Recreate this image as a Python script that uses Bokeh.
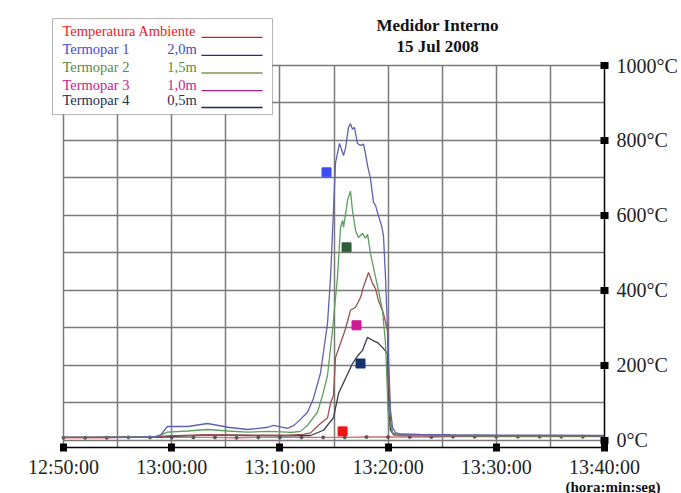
from bokeh.plotting import figure
from bokeh.models import Range1d, FixedTicker, Label, BoxAnnotation, Arrow, Title
from bokeh.embed import file_html
from bokeh.resources import INLINE

# ---- data (minutes after 12:50:00, temperature in degC) ----
x_tick_values = [0, 10, 20, 30, 40, 50]
x_tick_labels = ["12:50:00", "13:00:00", "13:10:00", "13:20:00", "13:30:00", "13:40:00"]
y_tick_values = [0, 200, 400, 600, 800, 1000]
y_tick_labels = ["0°C", "200°C", "400°C", "600°C", "800°C", "1000°C"]

amb_t = [0, 2, 4, 6, 8, 10, 12, 14, 16, 18, 20, 22, 24, 26, 28, 30, 32, 34, 36, 38, 40, 42, 44, 46, 48, 50]
amb_v = [7, 7, 7, 8, 8, 8, 8, 8, 7, 8, 8, 8, 8, 8, 9, 9, 9, 9, 10, 10, 10, 10, 10, 10, 10, 10]

t1_t = [0, 3.4, 7.1, 8.5, 9.0, 9.6, 11.5, 13.3, 15.2, 17.0, 18.9, 19.4, 20.7, 21.3, 21.9, 22.55,
        23.1, 23.75, 24.4, 24.68, 24.95, 25.14, 25.51, 25.88, 26.06, 26.34, 26.52, 26.71, 26.89,
        27.17, 27.45, 27.73, 27.91, 28.1, 28.37, 28.65, 28.84, 29.02, 29.39, 29.57, 29.76, 29.94,
        30.13, 30.22, 30.41, 30.68, 31.15, 33.0, 35.8, 40.4, 45.0, 50.0]
t1_v = [8, 8, 9, 10, 15, 37, 37, 45, 35, 29, 35, 40, 32, 40, 56, 75,
        112, 179, 312, 435, 613, 740, 792, 760, 779, 835, 845, 830, 835,
        792, 787, 790, 765, 733, 699, 635, 627, 608, 573, 547, 435, 300,
        150, 80, 35, 21, 17, 16, 15, 14, 14, 13]

t2_t = [0, 3.4, 7.1, 8.5, 9.0, 9.6, 11.5, 13.3, 15.2, 17.0, 18.9, 20.7, 21.0, 21.9, 22.55, 23.47,
        23.94, 24.4, 24.86, 25.32, 25.6, 25.79, 25.88, 26.16, 26.25, 26.52, 26.71, 26.99, 27.26,
        27.63, 27.91, 28.1, 28.37, 28.84, 29.11, 29.48, 29.76, 29.94, 30.04, 30.22, 30.41, 30.87,
        35.0, 40.0, 45.0, 50.0]
t2_v = [8, 8, 9, 10, 14, 22, 25, 29, 25, 22, 24, 22, 21, 24, 40, 75,
        120, 173, 293, 435, 568, 587, 568, 621, 640, 665, 613, 560, 541,
        552, 539, 550, 499, 435, 400, 347, 259, 125, 53, 45, 20, 15,
        13, 12, 12, 12]

t3_t = [0, 8.5, 9.6, 13.3, 17.0, 20.7, 22.18, 22.83, 23.75, 24.4, 24.68, 24.95, 25.14, 25.6,
        26.06, 26.52, 26.99, 27.45, 27.73, 28.19, 28.56, 28.84, 29.11, 29.57, 29.94, 30.04,
        30.22, 30.41, 31.0, 35.0, 40.0, 45.0, 50.0]
t3_v = [8, 9, 12, 15, 14, 14, 16, 20, 45, 60, 99, 120, 221, 259,
        297, 347, 355, 381, 410, 448, 419, 405, 373, 339, 293, 168,
        53, 20, 13, 12, 12, 11, 11]

t4_t = [0, 8.5, 9.6, 13.3, 17.0, 20.7, 22.83, 24.03, 24.95, 25.42, 26.06, 26.71, 27.17, 27.63,
        28.1, 28.56, 29.02, 29.48, 29.94, 30.04, 30.22, 30.5, 35.0, 40.0, 45.0, 50.0]
t4_v = [8, 8, 10, 14, 13, 12, 13, 27, 60, 125, 165, 205, 225, 240,
        275, 267, 261, 248, 232, 80, 27, 15, 12, 12, 11, 11]

# point markers placed on the chart (one per series)
mark_t = [24.31, 26.16, 27.08, 27.45, 25.79]
mark_v = [715, 515, 307, 205, 24]
mark_c = ["#3b4cf5", "#2f5e3a", "#cc1a99", "#14306e", "#f01414"]

legend_names = ["Temperatura  Ambiente", "Termopar  1", "Termopar  2", "Termopar  3", "Termopar  4"]
legend_dist = ["", "2,0m", "1,5m", "1,0m", "0,5m"]
legend_text_colors = ["#f02020", "#4848d0", "#5f8a3e", "#d0188f", "#1f2f50"]
legend_line_colors = ["#e01818", "#2424b0", "#7a9a5a", "#b0208a", "#1a2a50"]

SERIF = "Liberation Serif"
X0 = -5.8226   # frame starts at the left canvas edge
YTOP = 1173.4  # frame reaches the top canvas edge

p = figure(width=681, height=493, x_range=Range1d(X0, 50), y_range=Range1d(-19, YTOP),
           output_backend="svg", toolbar_location=None, y_axis_location="right",
           min_border_left=0, min_border_right=77, min_border_top=0, min_border_bottom=46)
p.background_fill_color = "white"
p.border_fill_color = "white"
p.outline_line_color = None

# grid
p.xgrid.ticker = FixedTicker(ticks=list(range(0, 51, 5)))
p.ygrid.ticker = FixedTicker(ticks=list(range(0, 1001, 100)))
for g in (p.xgrid, p.ygrid):
    g.grid_line_color = "#7a7a7a"
    g.grid_line_width = 1.5
has_cross = "cross_bounds" in p.xgrid.properties()
if has_cross:
    p.xgrid.cross_bounds = (-19, 1000)
    p.ygrid.cross_bounds = (0, 50)
else:
    p.add_layout(BoxAnnotation(left=X0, right=50, bottom=1001.5, top=YTOP, fill_color="white",
                               fill_alpha=1.0, line_color=None, level="underlay"))
    p.add_layout(BoxAnnotation(left=X0, right=-0.08, bottom=-19, top=YTOP, fill_color="white",
                               fill_alpha=1.0, line_color=None, level="underlay"))

# axes
xa = p.xaxis[0]
xa.ticker = FixedTicker(ticks=x_tick_values)
xa.major_label_overrides = {v: l for v, l in zip(x_tick_values, x_tick_labels)}
xa.bounds = (0, 50)
ya = p.yaxis[0]
ya.ticker = FixedTicker(ticks=y_tick_values)
ya.major_label_overrides = {v: l for v, l in zip(y_tick_values, y_tick_labels)}
ya.bounds = (-19, 1000)
for ax in (xa, ya):
    ax.axis_line_color = "black"
    ax.axis_line_width = 1.5
    ax.major_tick_line_color = "black"
    ax.major_tick_line_width = 7
    ax.major_tick_in = 4
    ax.major_tick_out = 4
    ax.minor_tick_line_color = None
    ax.major_label_text_font = SERIF
    ax.major_label_text_font_size = "20px"
    ax.major_label_text_color = "#222222"
xa.major_label_standoff = 4
ya.major_label_standoff = 8

# unit note under the time axis
unit_title = Title(text="(hora:min:seg)", align="right", offset=-56, vertical_align="middle",
                   text_font=SERIF, text_font_size="15px", text_font_style="bold",
                   text_color="#111111")
try:
    unit_title.standoff = -6
except Exception:
    unit_title.standoff = 0
p.add_layout(unit_title, "below")

# series
p.line(amb_t, amb_v, line_color="#e06a6a", line_width=1.3)
p.scatter(amb_t, amb_v, size=3, color="#555555")
p.line(t4_t, t4_v, line_color="#3c3c48", line_width=1.3)
p.line(t3_t, t3_v, line_color="#9a5050", line_width=1.3)
p.line(t2_t, t2_v, line_color="#5f9e5f", line_width=1.3)
p.line(t1_t, t1_v, line_color="#6060b0", line_width=1.3)
p.scatter(mark_t, mark_v, marker="square", size=9, color=mark_c)

# legend box (drawn manually: each entry has its own text colour)
p.add_layout(BoxAnnotation(left=-1.02, right=19.32, bottom=869, top=1125,
                           fill_color="white", fill_alpha=1.0,
                           line_color="black", line_width=1))
row_y = [1091, 1043, 995, 949, 907]
line_y = [1075, 1027, 980, 933, 888]
for i in range(5):
    p.add_layout(Label(x=-0.1, y=row_y[i], text=legend_names[i], text_font=SERIF,
                       text_font_size="14.5px", text_color=legend_text_colors[i],
                       text_baseline="middle", text_align="left"))
    if legend_dist[i]:
        p.add_layout(Label(x=9.6, y=row_y[i], text=legend_dist[i], text_font=SERIF,
                           text_font_size="14.5px", text_color=legend_text_colors[i],
                           text_baseline="middle", text_align="left"))
    p.add_layout(Arrow(end=None, x_start=12.75, x_end=18.4, y_start=line_y[i], y_end=line_y[i],
                       line_color=legend_line_colors[i], line_width=1.3))

# title
p.add_layout(Label(x=34.57, y=1107, text="Medidor Interno", text_font=SERIF,
                   text_font_size="17px", text_font_style="bold", text_color="#111111",
                   text_align="center", text_baseline="middle"))
p.add_layout(Label(x=34.57, y=1051, text="15 Jul 2008", text_font=SERIF,
                   text_font_size="17px", text_font_style="bold", text_color="#111111",
                   text_align="center", text_baseline="middle"))

open("out.html", "w").write(file_html(p, INLINE))
